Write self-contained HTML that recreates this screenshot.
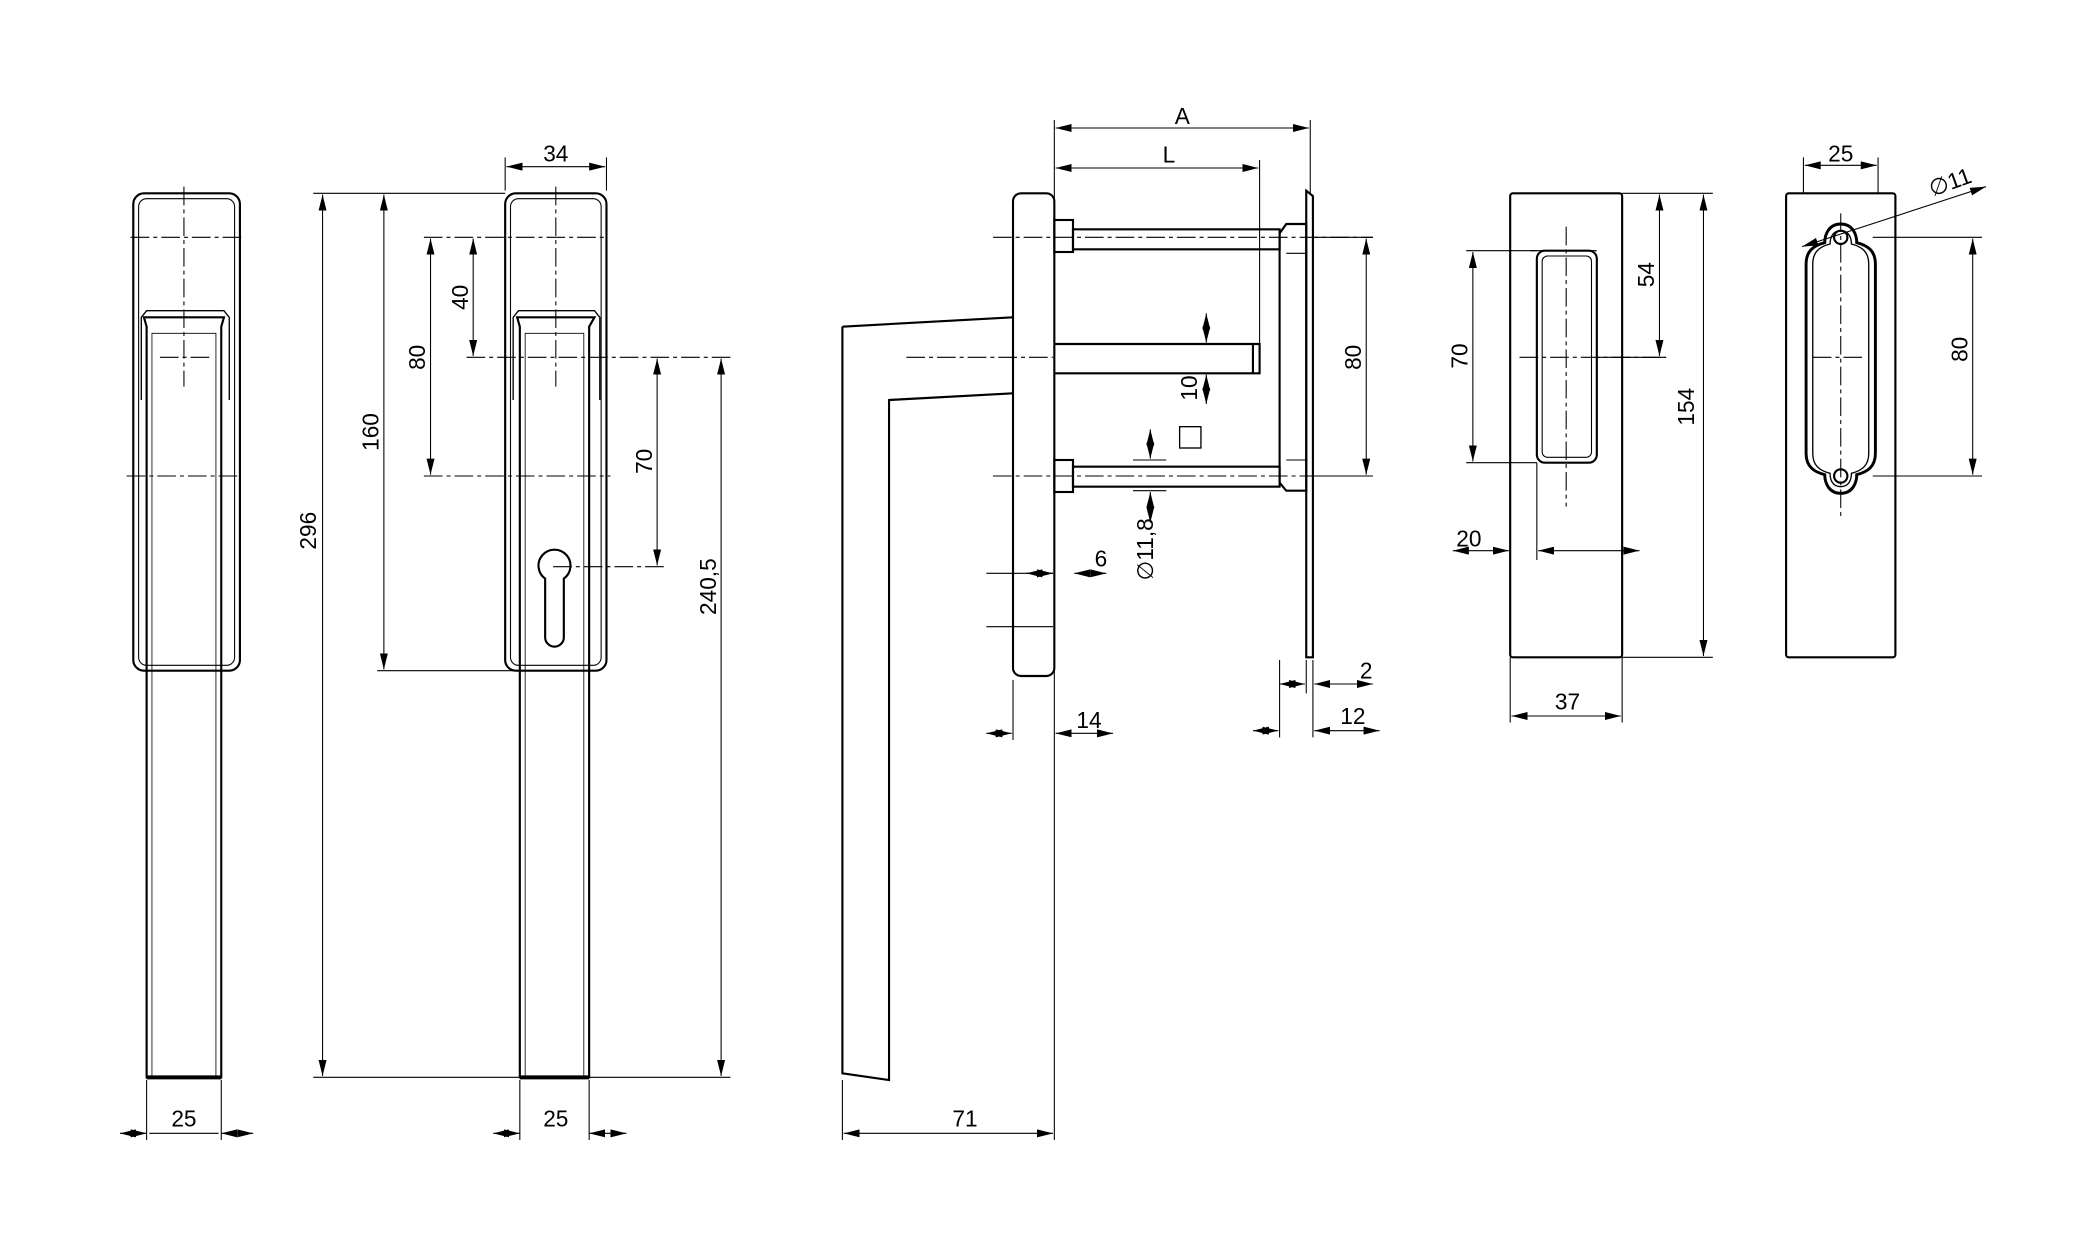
<!DOCTYPE html>
<html><head><meta charset="utf-8"><style>html,body{margin:0;padding:0;background:#fff}svg{display:block}</style></head>
<body>
<svg width="2090" height="1244" viewBox="0 0 1568 933" preserveAspectRatio="none" xmlns="http://www.w3.org/2000/svg" font-family="Liberation Sans, sans-serif" font-size="17" fill="none" stroke="#000">
<defs>
<marker id="a" viewBox="0 0 12 6" refX="12" refY="3" markerWidth="12" markerHeight="6" orient="auto-start-reverse" markerUnits="userSpaceOnUse"><path d="M0,0L12,3L0,6z" fill="#000" stroke="none"/></marker>
</defs>
<g stroke-width="1.6">
<rect x="100" y="145" width="80" height="358" rx="8"/>
<rect x="104" y="149" width="72" height="350" rx="6" stroke-width="0.8"/>
<path d="M110,808V245L108,238H168L166,245V808Z"/>
<path d="M110,808H166" stroke-width="3"/>
<path d="M106,300V238L110,233H168L172,238V300" stroke-width="1"/>
<path d="M114,808V250H162V808" stroke-width="0.6"/>
<rect x="379" y="145" width="76" height="358" rx="8"/>
<rect x="383" y="149" width="68" height="350" rx="6" stroke-width="0.8"/>
<path d="M390,808V245L388,238H446L442,245V808Z"/>
<path d="M390,808H442" stroke-width="3"/>
<path d="M385,300V238L389,233H446L450,238V300" stroke-width="1"/>
<path d="M394,808V250H438V808" stroke-width="0.6"/>
<path d="M409,434A12,12 0 1 1 423,434V478A7,7 0 0 1 409,478Z" fill="#fff"/>
<rect x="760" y="145" width="31" height="362" rx="6"/>
<path d="M632,245L760,238M760,295L667,300V810L632,805V245"/>
<rect x="791" y="165" width="14" height="24"/>
<rect x="805" y="172" width="155" height="15"/>
<rect x="791" y="345" width="14" height="24"/>
<rect x="805" y="350" width="155" height="15"/>
<path d="M791,258H945V280H791" />
<path d="M940,258V280"/>
<path d="M980,143L985,147V493H980Z"/>
<path d="M960,175L965,168H980V368H965L960,362Z"/>
<path d="M965,190H980M965,345H980" stroke-width="0.8"/>
<rect x="1133" y="145" width="84" height="348" rx="2"/>
<rect x="1153" y="188" width="45" height="159" rx="6"/>
<rect x="1157" y="192" width="37" height="151" rx="4" stroke-width="0.8"/>
<rect x="1340" y="145" width="82" height="348" rx="2"/>
<path d="M1381,168c-9,0-12,8-12,14c-8,2-14,6-14,16v142c0,10,6,14,14,16c0,6,3,14,12,14s12-8,12-14c8-2,14-6,14-16v-142c0-10-6-14-14-16c0-6-3-14-12-14z" stroke-width="2.2"/>
<path d="M1381,173c-6,0-8,5-8,10c-8,2-13,6-13,15v142c0,9,5,13,13,15c0,5,2,10,8,10s8-5,8-10c8-2,13-6,13-15v-142c0-9-5-13-13-15c0-5-2-10-8-10z" stroke-width="1"/>
<circle cx="1381" cy="178" r="5"/><circle cx="1381" cy="357" r="5"/>
</g>
<g stroke-width="0.8" stroke-dasharray="14,3,3,3">
<path d="M98,178H182M120,268H160M95,357H180M138,140V290"/>
<path d="M318,178H455M350,268H548M318,357H458M417,140V290M415,425H500"/>
<path d="M745,178H1030M680,268H790M745,357H1030"/>
<path d="M1148,188H1198M1175,170V380M1140,268H1250"/>
<path d="M1381,160V390M1360,268H1400"/>
</g>
<g stroke-width="0.8" marker-start="url(#a)" marker-end="url(#a)">
<path d="M112,850H164" marker-start="none" marker-end="none"/>
<path d="M90,850H110"/><path d="M190,850H166"/>
<path d="M370,850H390"/><path d="M470,850H442"/>
<path d="M380,125H454"/>
<path d="M242,146V807"/><path d="M288,146V502"/><path d="M323,179V356"/><path d="M355,179V267"/>
<path d="M493,269V424"/><path d="M541,269V807"/>
<path d="M792,96H982"/><path d="M792,126H944"/>
<path d="M1025,179V356"/>
<path d="M905,235V257"/><path d="M905,303V281"/>
<path d="M863,322V344"/><path d="M863,392V369"/>
<path d="M770,430H790"/><path d="M830,430H806"/>
<path d="M740,550H759"/><path d="M835,550H792"/>
<path d="M960,513H979"/><path d="M1030,513H986"/>
<path d="M940,548H959"/><path d="M1035,548H986"/>
<path d="M633,850H790"/>
<path d="M1245,146V267"/><path d="M1278,146V492"/><path d="M1105,189V346"/>
<path d="M1090,413H1132"/><path d="M1230,413H1154"/>
<path d="M1134,537H1216"/>
<path d="M1354,124H1408"/>
<path d="M1480,179V356"/>
<path d="M1490,140L1352,185"/>
</g>
<g stroke-width="0.8">
<path d="M110,810V855M166,810V855M390,810V855M442,810V855"/>
<path d="M379,118V143M455,118V143"/>
<path d="M235,145H379M235,808H548M283,503H390"/>
<path d="M791,90V855M983,90V145M945,120V258M985,178H1030M985,357H1030"/>
<path d="M740,430H790M740,470H790M760,510V555M960,495V553M985,495V553M980,495V520M632,810V855"/>
<path d="M850,345H875M850,368H875M895,258H910M895,280H910"/>
<path d="M1217,145H1285M1133,493V542M1217,493V542M1133,405V420M1153,347V420M1217,410V420M1198,268H1250M1100,188H1153M1100,347H1153M1217,493H1285"/>
<path d="M1353,118V145M1409,118V145M1405,178H1487M1405,357H1487"/>
</g>
<g fill="#000" stroke="none" text-anchor="middle">
<text x="138" y="845">25</text><text x="417" y="845">25</text>
<text x="417" y="121">34</text>
<text transform="translate(237,398) rotate(-90)">296</text>
<text transform="translate(284,324) rotate(-90)">160</text>
<text transform="translate(319,268) rotate(-90)">80</text>
<text transform="translate(351,223) rotate(-90)">40</text>
<text transform="translate(489,346) rotate(-90)">70</text>
<text transform="translate(537,440) rotate(-90)">240,5</text>
<text x="887" y="93">A</text><text x="877" y="122">L</text>
<text transform="translate(1021,268) rotate(-90)">80</text>
<text transform="translate(898,291) rotate(-90)">10</text>
<text transform="translate(865,412) rotate(-90)">∅11,8</text>
<text x="826" y="425">6</text><text x="817" y="546">14</text>
<text x="1025" y="509">2</text><text x="1015" y="543">12</text>
<text x="724" y="845">71</text>
<text transform="translate(1241,206) rotate(-90)">54</text>
<text transform="translate(1271,305) rotate(-90)">154</text>
<text transform="translate(1101,267) rotate(-90)">70</text>
<text x="1102" y="410">20</text><text x="1176" y="532">37</text>
<text x="1381" y="121">25</text>
<text transform="translate(1476,262) rotate(-90)">80</text>
<text transform="translate(1465,142) rotate(-20)">∅11</text>
</g>
<rect x="885" y="320" width="16" height="16" stroke-width="1"/>
</svg>
</body></html>
